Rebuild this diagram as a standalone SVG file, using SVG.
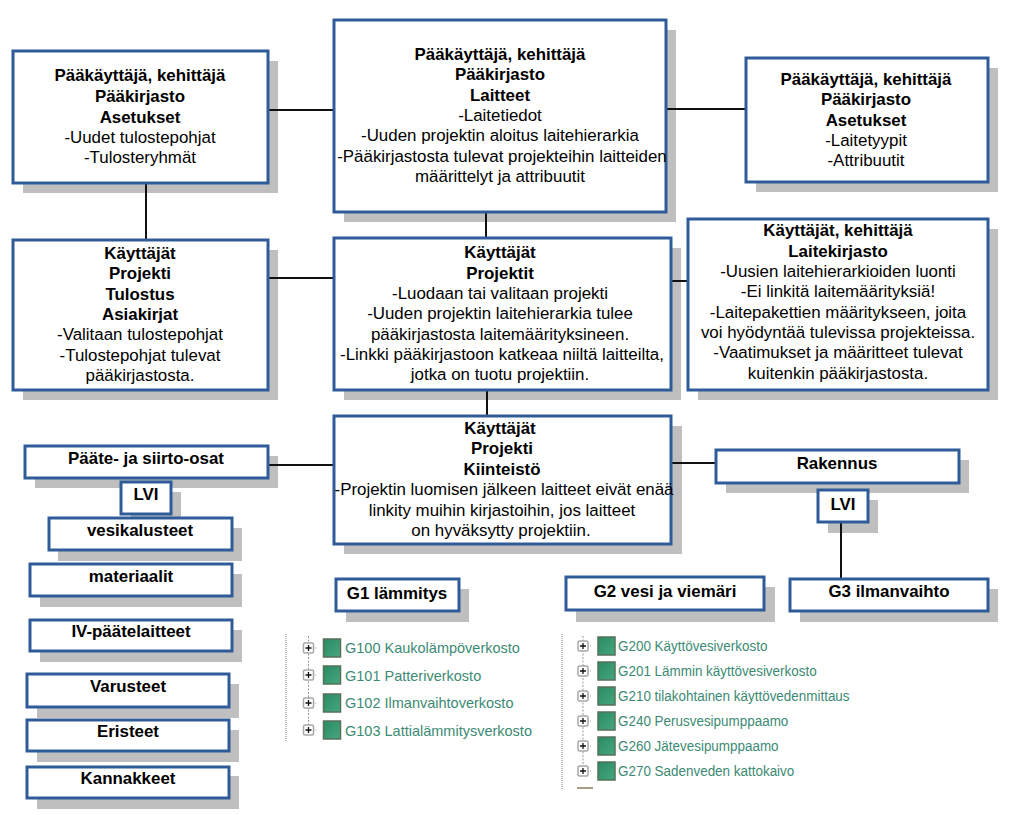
<svg xmlns="http://www.w3.org/2000/svg" width="1023" height="815" viewBox="0 0 1023 815">
<defs>
<linearGradient id="sq" x1="0" y1="0" x2="1" y2="1"><stop offset="0" stop-color="#2a8a62"/><stop offset="1" stop-color="#46a67f"/></linearGradient>
<g id="tree"><rect x="-5" y="-5" width="10" height="10" rx="1.500" fill="#fff" stroke="#a8a8a8" stroke-width="1.500"/><path d="M-3 0H3M0-3V3" stroke="#111" stroke-width="1.300"/><path d="M5 0H8" stroke="#aaa" stroke-dasharray="1 1"/><rect x="15" y="-9" width="17" height="18" fill="url(#sq)" stroke="#56705a" stroke-width="1.500"/></g>
</defs>
<style>
text{font-family:"Liberation Sans",Arial,sans-serif;fill:#000;text-anchor:middle;font-size:16.900px}
.b{font-weight:700}
.box{fill:#fff;stroke:#2f5c98;stroke-width:3}
.sh{fill:#bfbfbf}
.ln{stroke:#111;stroke-width:2;fill:none}
text.t{fill:#3c8a74;text-anchor:start;font-size:14.500px}
.dot{stroke:#777;stroke-width:1;stroke-dasharray:1 1;fill:none}
.trv{stroke:#999;stroke-width:1;stroke-dasharray:2 1.500;fill:none}
</style>
<rect width="1023" height="815" fill="#fff"/>
<g id="shadows" class="sh">
<rect x="23" y="61" width="255" height="132"/><rect x="344" y="30" width="332" height="192"/><rect x="756" y="68" width="242" height="124"/>
<rect x="23" y="250" width="255" height="150"/><rect x="344" y="248" width="337" height="152"/><rect x="698" y="229" width="300" height="171"/>
<rect x="344" y="426" width="338" height="128"/><rect x="35" y="456" width="243" height="32"/><rect x="131" y="492" width="50" height="32"/>
<rect x="58" y="528" width="184" height="33"/><rect x="40" y="574" width="202" height="33"/><rect x="40" y="630" width="202" height="32"/>
<rect x="37" y="684" width="202" height="34"/><rect x="37" y="730" width="202" height="32"/><rect x="37" y="776" width="202" height="33"/>
<rect x="346" y="589" width="123" height="33"/><rect x="576" y="587" width="199" height="35"/><rect x="800" y="589" width="198" height="33"/>
<rect x="726" y="460" width="243" height="33"/><rect x="828" y="500" width="50" height="33"/>
</g>
<g id="connectors" class="ln">
<path d="M268 110H334M666 109H746M146 183V240M268 278H334M671 281H688M486 212V238M487 390V416M268 465H334M671 463H716M841 522V579"/>
</g>
<g id="n1"><rect class="box" x="13" y="51" width="255" height="132"/><text x="140" y="81" class="b">Pääkäyttäjä, kehittäjä</text><text x="140" y="102" class="b">Pääkirjasto</text><text x="140" y="123" class="b">Asetukset</text><text x="140" y="143">-Uudet tulostepohjat</text><text x="140" y="163">-Tulosteryhmät</text></g>
<g id="n2"><rect class="box" x="334" y="20" width="332" height="192"/><text x="500" y="60" class="b">Pääkäyttäjä, kehittäjä</text><text x="500" y="80" class="b">Pääkirjasto</text><text x="500" y="101" class="b">Laitteet</text><text x="500" y="121">-Laitetiedot</text><text x="500" y="141">-Uuden projektin aloitus laitehierarkia</text><text x="502" y="162">-Pääkirjastosta tulevat projekteihin laitteiden</text><text x="500" y="182">määrittelyt ja attribuutit</text></g>
<g id="n3"><rect class="box" x="746" y="58" width="242" height="124"/><text x="866" y="85" class="b">Pääkäyttäjä, kehittäjä</text><text x="866" y="105" class="b">Pääkirjasto</text><text x="866" y="126" class="b">Asetukset</text><text x="866" y="146">-Laitetyypit</text><text x="866" y="166">-Attribuutit</text></g>
<g id="n4"><rect class="box" x="13" y="240" width="255" height="150"/><text x="140" y="259" class="b">Käyttäjät</text><text x="140" y="279" class="b">Projekti</text><text x="140" y="300" class="b">Tulostus</text><text x="140" y="320" class="b">Asiakirjat</text><text x="140" y="340">-Valitaan tulostepohjat</text><text x="140" y="361">-Tulostepohjat tulevat</text><text x="140" y="381">pääkirjastosta.</text></g>
<g id="n5"><rect class="box" x="334" y="238" width="337" height="152"/><text x="500" y="258" class="b">Käyttäjät</text><text x="500" y="279" class="b">Projektit</text><text x="500" y="299">-Luodaan tai valitaan projekti</text><text x="500" y="319">-Uuden projektin laitehierarkia tulee</text><text x="500" y="340">pääkirjastosta laitemäärityksineen.</text><text x="502" y="360">-Linkki pääkirjastoon katkeaa niiltä laitteilta,</text><text x="500" y="380">jotka on tuotu projektiin.</text></g>
<g id="n6"><rect class="box" x="688" y="219" width="300" height="171"/><text x="838" y="236" class="b">Käyttäjät, kehittäjä</text><text x="838" y="257" class="b">Laitekirjasto</text><text x="838" y="277">-Uusien laitehierarkioiden luonti</text><text x="838" y="297">-Ei linkitä laitemäärityksiä!</text><text x="838" y="318">-Laitepakettien määritykseen, joita</text><text x="838" y="338">voi hyödyntää tulevissa projekteissa.</text><text x="838" y="358">-Vaatimukset ja määritteet tulevat</text><text x="838" y="379">kuitenkin pääkirjastosta.</text></g>
<g id="n7"><rect class="box" x="334" y="416" width="337" height="128"/><text x="500" y="434" class="b">Käyttäjät</text><text x="502" y="454" class="b">Projekti</text><text x="502" y="475" class="b">Kiinteistö</text><text x="504" y="495">-Projektin luomisen jälkeen laitteet eivät enää</text><text x="502" y="516">linkity muihin kirjastoihin, jos laitteet</text><text x="501" y="536">on hyväksytty projektiin.</text></g>
<g id="n8"><rect class="box" x="25" y="446" width="243" height="32"/><text x="146" y="464" class="b">Pääte- ja siirto-osat</text></g>
<g id="n9"><rect class="box" x="121" y="482" width="50" height="32"/><text x="146" y="500" class="b">LVI</text></g>
<g id="n10"><rect class="box" x="49" y="518" width="183" height="32"/><text x="140" y="536" class="b">vesikalusteet</text></g>
<g id="n11"><rect class="box" x="30" y="564" width="202" height="32"/><text x="131" y="582" class="b">materiaalit</text></g>
<g id="n12"><rect class="box" x="30" y="620" width="202" height="31"/><text x="131" y="637" class="b">IV-päätelaitteet</text></g>
<g id="n13"><rect class="box" x="27" y="674" width="202" height="33"/><text x="128" y="692" class="b">Varusteet</text></g>
<g id="n14"><rect class="box" x="27" y="720" width="202" height="31"/><text x="128" y="737" class="b">Eristeet</text></g>
<g id="n15"><rect class="box" x="27" y="767" width="202" height="31"/><text x="128" y="784" class="b">Kannakkeet</text></g>
<g id="n16"><rect class="box" x="336" y="579" width="123" height="32"/><text x="397" y="599" class="b">G1 lämmitys</text></g>
<g id="n17"><rect class="box" x="566" y="577" width="198" height="33"/><text x="665" y="597" class="b">G2 vesi ja viemäri</text></g>
<g id="n18"><rect class="box" x="790" y="579" width="198" height="32"/><text x="889" y="597" class="b">G3 ilmanvaihto</text></g>
<g id="n19"><rect class="box" x="716" y="450" width="243" height="33"/><text x="837" y="469" class="b">Rakennus</text></g>
<g id="n20"><rect class="box" x="818" y="490" width="50" height="32"/><text x="843" y="510" class="b">LVI</text></g>
<g id="tree1">
<path class="dot" d="M286 634V742"/><path class="trv" d="M308.500 636V730"/>
<use href="#tree" x="308.500" y="648"/><use href="#tree" x="308.500" y="675"/><use href="#tree" x="308.500" y="703"/><use href="#tree" x="308.500" y="730"/>
<text class="t" x="345" y="653">G100 Kaukolämpöverkosto</text><text class="t" x="345" y="681">G101 Patteriverkosto</text><text class="t" x="345" y="708">G102 Ilmanvaihtoverkosto</text><text class="t" x="345" y="736">G103 Lattialämmitysverkosto</text>
</g>
<g id="tree2">
<path class="dot" d="M562 634V790"/><path class="trv" d="M583 636V772"/>
<use href="#tree" x="583" y="646"/><use href="#tree" x="583" y="671"/><use href="#tree" x="583" y="696"/><use href="#tree" x="583" y="721"/><use href="#tree" x="583" y="746"/><use href="#tree" x="583" y="771"/>
<path d="M577 788H593" stroke="#8a7d5a" stroke-width="1.500"/>
<g transform="translate(618 0) scale(.928 1) translate(-618 0)"><text class="t" x="618" y="651">G200 Käyttövesiverkosto</text><text class="t" x="618" y="676">G201 Lämmin käyttövesiverkosto</text><text class="t" x="618" y="701">G210 tilakohtainen käyttövedenmittaus</text><text class="t" x="618" y="726">G240 Perusvesipumppaamo</text><text class="t" x="618" y="751">G260 Jätevesipumppaamo</text><text class="t" x="618" y="776">G270 Sadenveden kattokaivo</text></g>
</g>
</svg>
